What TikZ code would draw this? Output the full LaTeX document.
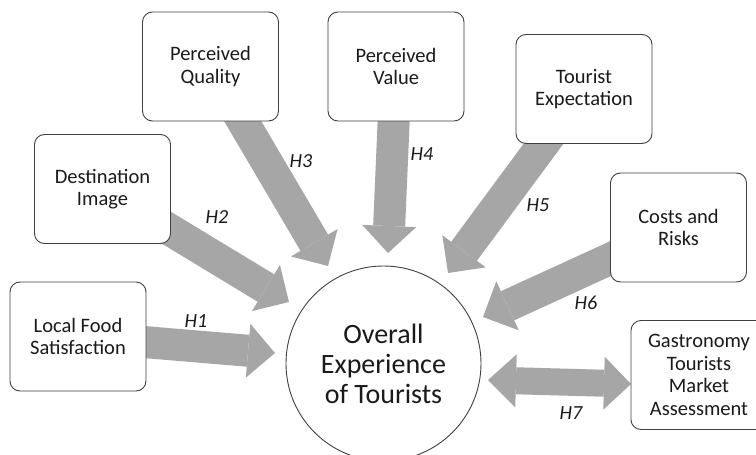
\documentclass[tikz,border=0pt]{standalone}
\usepackage{fontspec}
\setmainfont{Carlito}
\usetikzlibrary{arrows.meta,backgrounds}
\definecolor{arrowgray}{HTML}{A6A6A6}
\definecolor{edgegray}{HTML}{404040}
\definecolor{txt}{HTML}{1A1A1A}
\begin{document}
\begin{tikzpicture}[x=1pt,y=-1pt,
  box/.style={draw=edgegray, line width=0.9pt, rounded corners=10pt, fill=white,
    minimum width=136pt, minimum height=109pt, align=center, text=txt,
    font=\fontsize{20.5}{22.5}\selectfont, inner sep=0pt},
  hub/.style={circle, draw=edgegray, line width=0.9pt, fill=white, minimum size=195pt,
    inner sep=0pt, align=center, text=txt, font=\fontsize{28}{30}\selectfont},
  blk/.style={draw=arrowgray, line width=32pt,
    -{Triangle[length=27pt,width=54pt,line width=0pt]}},
  dbl/.style={draw=arrowgray, line width=27pt,
    {Triangle[length=28pt,width=53pt,line width=0pt]}-{Triangle[length=27pt,width=53pt,line width=0pt]}},
  hlab/.style={font=\fontsize{20}{22}\selectfont\itshape, text=txt, inner sep=0pt}]
\useasboundingbox (0,0) rectangle (756,455);
\clip (0,0) rectangle (756,455);

% boxes
\node[box] (pq) at (210.5,66.5) {Perceived\\Quality};
\node[box] (pv) at (396,66.5) {Perceived\\Value};
\node[box] (te) at (584,89) {Tourist\\Expectation};
\node[box] (cr) at (678.5,227.5) {Costs and\\Risks};
\node[box] (di) at (102.5,189) {Destination\\Image};
\node[box] (lf) at (78,336.5) {Local Food\\Satisfaction};
\node[box] (gm) at (699,375) {Gastronomy\\Tourists\\Market\\Assessment};
\node[hub] (oe) at (383.5,363.5) {Overall\\Experience\\of Tourists};

% arrow tips
\coordinate (t1) at (275,353);
\coordinate (t2) at (289,302);
\coordinate (t3) at (328,266);
\coordinate (t4) at (388,253);
\coordinate (t5) at (448,273);
\coordinate (t6) at (483,317);
\coordinate (h7a) at (488,380);
\coordinate (h7b) at (631,384);

\begin{pgfonlayer}{background}
  \fill[white] (0,0) rectangle (756,455);
  \draw[blk] (lf.center) -- (t1);
  \draw[blk] (di.center) -- (t2);
  \draw[blk] (pq.center) -- (t3);
  \draw[blk] (pv.center) -- (t4);
  \draw[blk] (te.center) -- (t5);
  \draw[blk] (cr.center) -- (t6);
  \draw[dbl] (h7a) -- (h7b);
\end{pgfonlayer}

% labels
\node[hlab] (l1) at (196,321) {H1};
\node[hlab] (l2) at (217,217) {H2};
\node[hlab] (l3) at (301,161) {H3};
\node[hlab] (l4) at (422,154) {H4};
\node[hlab] (l5) at (538,205) {H5};
\node[hlab] (l6) at (586,303) {H6};
\node[hlab] (l7) at (571,413) {H7};
\end{tikzpicture}
\end{document}
